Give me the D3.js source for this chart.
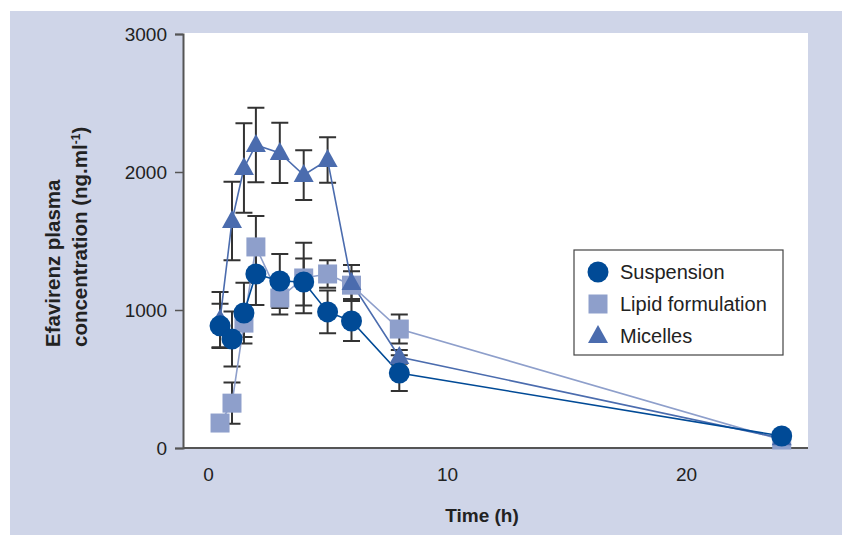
<html>
<head>
<script src="https://d3js.org/d3.v7.min.js"></script>
<style>
body { margin: 0; background: #fff; }
text { font-family: Arial, "Liberation Sans", Helvetica, sans-serif; fill: #222; }
.tick text { font-size: 19px; }
.axis-title { font-size: 19px; font-weight: bold; }
.ytitle { font-size: 20.5px; font-weight: bold; }
.legend text { font-size: 20px; }
</style>
</head>
<body>
<svg id="chart"></svg>
<script>
// data
var times = [0.5, 1, 1.5, 2, 3, 4, 5, 6, 8, 24];
var suspension   = [885, 790, 978, 1261, 1210, 1203, 986, 920, 543, 87];
var suspensionSd = [160, 200, 220, 225, 196, 170, 155, 145, 130, 0];
var lipid   = [181, 325, 905, 1457, 1087, 1232, 1261, 1180, 862, 58];
var lipidSd = [0, 150, 100, 225, 120, 255, 100, 100, 105, 0];
var micelles   = [930, 1645, 2029, 2196, 2138, 1978, 2087, 1196, 660, 70];
var micellesSd = [200, 285, 325, 270, 218, 180, 165, 130, 50, 0];
var xTicks = [0, 10, 20];
var yTicks = [0, 1000, 2000, 3000];

var series = [
    { name: "Lipid formulation", values: lipid, sd: lipidSd, shape: "square", color: "#8e9fcb", line: "#8e9fcb" },
    { name: "Micelles", values: micelles, sd: micellesSd, shape: "triangle", color: "#4b6cae", line: "#4b6cae" },
    { name: "Suspension", values: suspension, sd: suspensionSd, shape: "circle", color: "#004a96", line: "#004a96" }
];
var legendOrder = ["Suspension", "Lipid formulation", "Micelles"];

var W = 842, H = 535;
var p = { left: 183, right: 808, top: 33, bottom: 448 };

var svg = d3.select("#chart").attr("width", W).attr("height", H);

// panel background and white plot area
svg.append("rect").attr("x", 10).attr("y", 11).attr("width", W - 10).attr("height", H - 11)
    .attr("fill", "#cfd5e8");
svg.append("rect").attr("x", p.left).attr("y", p.top)
    .attr("width", p.right - p.left).attr("height", p.bottom - p.top)
    .attr("fill", "#fff");

var x = d3.scaleLinear().domain([-1.05, 25.1]).range([p.left, p.right]);
var y = d3.scaleLinear().domain([0, 3000]).range([p.bottom, p.top + 1]);

// y axis
var yAxis = svg.append("g")
    .attr("transform", "translate(" + p.left + ",0)")
    .call(d3.axisLeft(y).tickValues(yTicks).tickFormat(d3.format("d")).tickSize(8).tickPadding(8));
yAxis.select(".domain").attr("stroke", "#555").attr("stroke-width", 2);
yAxis.selectAll(".tick line").attr("stroke", "#555").attr("stroke-width", 1.5);

// x axis: line only, labels below
var xAxis = svg.append("g")
    .attr("transform", "translate(0," + p.bottom + ")")
    .call(d3.axisBottom(x).tickValues(xTicks).tickSize(0).tickPadding(20));
xAxis.select(".domain").attr("stroke", "#555").attr("stroke-width", 2)
    .attr("d", "M" + p.left + ",0H" + p.right);

// axis titles
svg.append("text").attr("class", "axis-title")
    .attr("x", 482).attr("y", 522).attr("text-anchor", "middle")
    .text("Time (h)");

var yt = svg.append("g").attr("transform", "translate(60,347) rotate(-90)");
yt.append("text").attr("class", "ytitle").attr("x", 0).attr("y", 0).text("Efavirenz plasma");
var yt2 = yt.append("text").attr("class", "ytitle").attr("x", 0).attr("y", 27);
yt2.append("tspan").text("concentration (ng.ml");
yt2.append("tspan").attr("dy", -7).style("font-size", "12px").text("-1");
yt2.append("tspan").attr("dy", 7).text(")");

var plot = svg.append("g");
var capW = 8.5;

// error bars behind everything
series.forEach(function(s) {
    var pts = times.map(function(t, i) { return { t: t, v: s.values[i], sd: s.sd[i] }; })
        .filter(function(d) { return d.sd > 0; });
    var eb = plot.append("g").attr("stroke", "#333").attr("stroke-width", 2).attr("fill", "none");
    eb.selectAll("path").data(pts).enter().append("path")
        .attr("d", function(d) {
            var cx = x(d.t), y1 = y(d.v + d.sd), y0 = y(d.v - d.sd);
            return "M" + cx + "," + y1 + "V" + y0 +
                "M" + (cx - capW) + "," + y1 + "H" + (cx + capW) +
                "M" + (cx - capW) + "," + y0 + "H" + (cx + capW);
        });
});

// connecting lines
var line = d3.line().x(function(d, i) { return x(times[i]); }).y(function(d) { return y(d); });
series.forEach(function(s) {
    plot.append("path").datum(s.values)
        .attr("d", line).attr("fill", "none")
        .attr("stroke", s.line).attr("stroke-width", 1.6);
});

function marker(g, shape, color) {
    if (shape == "circle") {
        g.append("circle").attr("r", 10.5).attr("fill", color);
    } else if (shape == "square") {
        g.append("rect").attr("x", -9.5).attr("y", -9.5).attr("width", 19).attr("height", 19).attr("fill", color);
    } else {
        g.append("path").attr("d", "M0,-11L10,7H-10Z").attr("fill", color);
    }
}

series.forEach(function(s) {
    s.values.forEach(function(v, i) {
        var g = plot.append("g").attr("transform", "translate(" + x(times[i]) + "," + y(v) + ")");
        marker(g, s.shape, s.color);
    });
});

// legend
var lg = svg.append("g").attr("class", "legend");
lg.append("rect").attr("x", 574).attr("y", 250).attr("width", 209).attr("height", 105)
    .attr("fill", "#fff").attr("stroke", "#444").attr("stroke-width", 1.2);
legendOrder.forEach(function(name, i) {
    var s = series.find(function(d) { return d.name == name; });
    var row = lg.append("g").attr("transform", "translate(598," + (272 + i * 32) + ")");
    marker(row, s.shape, s.color);
    row.append("text").attr("x", 22).attr("y", 7).text(name);
});
</script>
</body>
</html>
